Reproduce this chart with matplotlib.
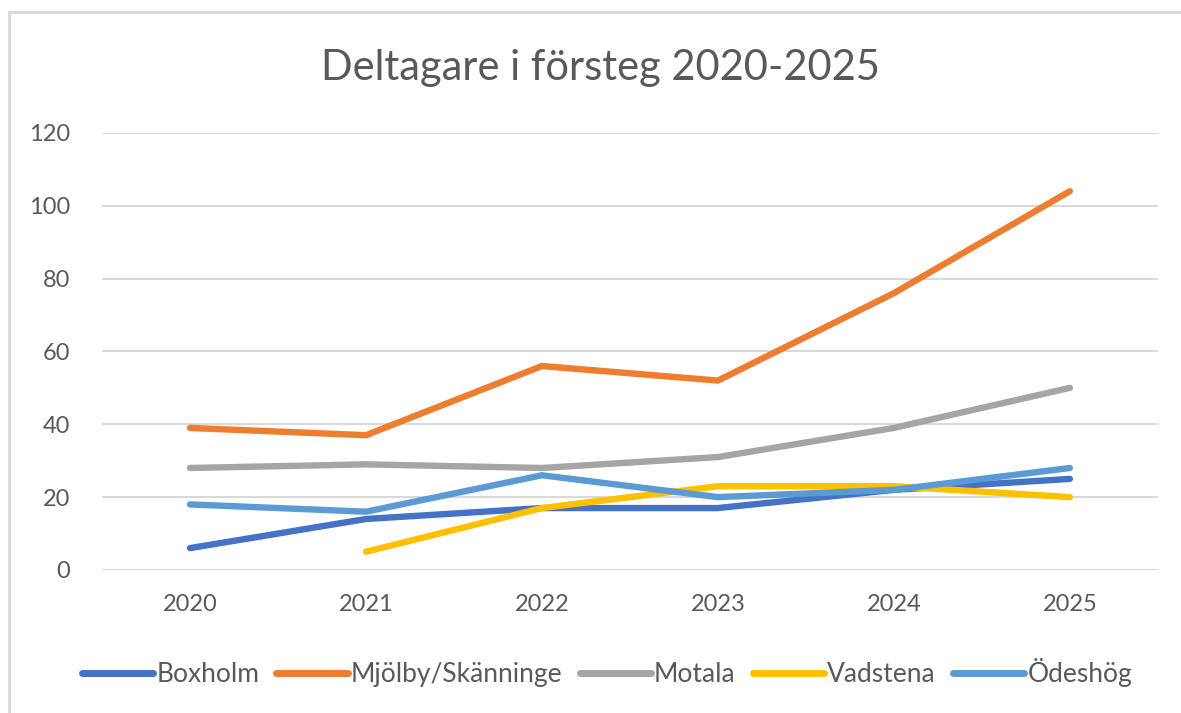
import matplotlib.pyplot as plt
import numpy as np
from matplotlib.lines import Line2D

plt.rcParams['font.family'] = ['Lato', 'DejaVu Sans']

years = ['2020', '2021', '2022', '2023', '2024', '2025']
boxholm = [6, 14, 17, 17, 22, 25]
mjolby = [39, 37, 56, 52, 76, 104]
motala = [28, 29, 28, 31, 39, 50]
vadstena = [np.nan, 5, 17, 23, 23, 20]
odeshog = [18, 16, 26, 20, 22, 28]

series = [
    ('Boxholm', boxholm, '#4472C4'),
    ('Mjölby/Skänninge', mjolby, '#ED7D31'),
    ('Motala', motala, '#A5A5A5'),
    ('Vadstena', vadstena, '#FFC000'),
    ('Ödeshög', odeshog, '#5B9BD5'),
]

text_color = '#595959'

fig = plt.figure(figsize=(11.81, 7.13), dpi=100)
ax = fig.add_axes([0.0864, 0.2006, 0.894, 0.613])

x = np.arange(len(years))
for name, vals, color in series:
    ax.plot(x, vals, color=color, lw=4.6, solid_capstyle='round',
            solid_joinstyle='round', label=name)

ax.set_xlim(-0.5, len(years) - 0.5)
ax.set_ylim(0, 120)
ax.set_yticks(range(0, 121, 20))
ax.set_xticks(x)
ax.set_xticklabels(years)
ax.grid(axis='y', color='#D9D9D9', lw=1.5)
ax.set_axisbelow(True)
for s in ax.spines.values():
    s.set_visible(False)
ax.tick_params(length=0, labelsize=17, colors=text_color)
ax.tick_params(axis='x', pad=17)
ax.tick_params(axis='y', pad=23)

fig.text(0.508, 0.905, 'Deltagare i försteg 2020-2025', ha='center', va='center',
         fontsize=30, color=text_color)

leg = fig.legend(loc='center', bbox_to_anchor=(0.514, 0.057), ncol=5, frameon=False,
                 fontsize=19, handlelength=2.7, handletextpad=0.12, columnspacing=0.65)
for t in leg.get_texts():
    t.set_color(text_color)
for h in leg.get_lines():
    h.set_linewidth(5)

# chart frame (left and top edges visible)
fig.add_artist(Line2D([9.5 / 1181, 9.5 / 1181], [0, 1 - 11.5 / 713], color='#D9D9D9', lw=2.2))
fig.add_artist(Line2D([9.5 / 1181, 1], [1 - 11.5 / 713, 1 - 11.5 / 713], color='#D9D9D9', lw=2.2))

fig.savefig('out.png', dpi=100)
